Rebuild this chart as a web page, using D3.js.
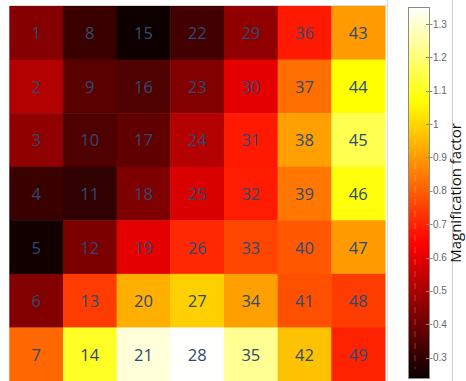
<!DOCTYPE html>
<html>
<head>
<meta charset="utf-8">
<script src="https://cdn.jsdelivr.net/npm/d3@7"></script>
<style>
  html, body { margin: 0; padding: 0; background: #fff; }
  svg { display: block; }
</style>
</head>
<body>
<svg id="chart" width="466" height="381"></svg>
<script>
// ---- Data ----
const columns = [0, 1, 2, 3, 4, 5, 6];
const rows = [0, 1, 2, 3, 4, 5, 6];
// cell ids are numbered column-wise, 1..49
const cellIds = d3.range(1, 50);
const col1 = [0.44, 0.517, 0.46, 0.316, 0.25, 0.436, 0.817];
const col2 = [0.316, 0.37, 0.35, 0.30, 0.425, 0.743, 1.11];
const col3 = [0.244, 0.35, 0.38, 0.43, 0.60, 0.935, 1.31];
const col4 = [0.33, 0.436, 0.517, 0.58, 0.71, 0.99, 1.35];
const col5 = [0.46, 0.60, 0.685, 0.69, 0.76, 0.91, 1.23];
const col6 = [0.685, 0.826, 0.91, 0.84, 0.79, 0.776, 0.967];
const col7 = [0.90, 1.067, 1.155, 1.08, 0.90, 0.743, 0.70];
const colorTicks = [0.3, 0.4, 0.5, 0.6, 0.7, 0.8, 0.9, 1, 1.1, 1.2, 1.3];
const colorDomain = [0.236, 1.351];
const legendTitle = "Magnification factor";

const magnification = [col1, col2, col3, col4, col5, col6, col7];

// ---- Layout ----
const svg = d3.select("#chart");
const heat = { left: 9.3, right: 385, top: 6, bottom: 381 };
const bar = { left: 408, right: 430, top: 7, bottom: 379 };

const x = d3.scaleBand().domain(columns).range([heat.left, heat.right]).padding(0);
const y = d3.scaleBand().domain(rows).range([heat.top, heat.bottom]).padding(0);

const [vmin, vmax] = colorDomain;
const span = vmax - vmin;
const color = d3.scaleLinear()
  .domain([vmin, vmin + 0.365 * span, vmin + 0.746 * span, vmax])
  .range(["#0a0000", "#ff0000", "#ffff00", "#ffffff"])
  .interpolate(d3.interpolateRgb)
  .clamp(true);

// panel frame lines
svg.append("line").attr("x1", heat.left).attr("x2", 387.5).attr("y1", 5.5).attr("y2", 5.5)
  .attr("stroke", "#dcdcdc").attr("stroke-width", 1);
svg.append("line").attr("x1", 387.5).attr("x2", 387.5).attr("y1", 0).attr("y2", 381)
  .attr("stroke", "#dcdcdc").attr("stroke-width", 1);
svg.append("line").attr("x1", 452.5).attr("x2", 452.5).attr("y1", 0).attr("y2", 381)
  .attr("stroke", "#d0d0d0").attr("stroke-width", 1);

// cells
const cells = [];
columns.forEach((c, ci) => {
  rows.forEach((r, ri) => {
    cells.push({ col: c, row: r, id: cellIds[ci * rows.length + ri], value: magnification[ci][ri] });
  });
});

svg.append("g").selectAll("rect").data(cells).join("rect")
  .attr("x", d => x(d.col))
  .attr("y", d => y(d.row))
  .attr("width", x.bandwidth() + 0.5)
  .attr("height", y.bandwidth() + 0.5)
  .attr("fill", d => color(d.value));

svg.append("g").selectAll("text").data(cells).join("text")
  .attr("x", d => x(d.col) + x.bandwidth() / 2)
  .attr("y", d => y(d.row) + y.bandwidth() / 2)
  .attr("text-anchor", "middle")
  .attr("dominant-baseline", "central")
  .attr("font-family", "'Open Sans', 'DejaVu Sans', sans-serif")
  .attr("font-size", 16.5)
  .attr("fill", "#2f4a70")
  .text(d => d.id);

// colorbar
const cy = d3.scaleLinear().domain(colorDomain).range([bar.bottom, bar.top]);
const defs = svg.append("defs");
const grad = defs.append("linearGradient").attr("id", "cbar")
  .attr("x1", 0).attr("y1", 1).attr("x2", 0).attr("y2", 0);
d3.range(0, 1.0001, 0.02).forEach(t => {
  grad.append("stop").attr("offset", t).attr("stop-color", color(vmin + t * span));
});
svg.append("rect")
  .attr("x", bar.left).attr("y", bar.top)
  .attr("width", bar.right - bar.left).attr("height", bar.bottom - bar.top)
  .attr("fill", "url(#cbar)");
// faint dashed artifact line
svg.append("line").attr("x1", 415).attr("x2", 415).attr("y1", bar.top + 120).attr("y2", bar.bottom - 10)
  .attr("stroke", "#ffffff").attr("stroke-opacity", 0.25).attr("stroke-dasharray", "6,6");
svg.append("rect")
  .attr("x", bar.left + 0.5).attr("y", bar.top + 0.5)
  .attr("width", bar.right - bar.left - 1).attr("height", bar.bottom - bar.top - 1)
  .attr("fill", "none").attr("stroke", "#8a8a8a").attr("stroke-width", 1);

const ticks = svg.append("g");
ticks.selectAll("line").data(colorTicks).join("line")
  .attr("x1", bar.right - 4).attr("x2", bar.right + 2.5)
  .attr("y1", d => Math.round(cy(d)) + 0.5).attr("y2", d => Math.round(cy(d)) + 0.5)
  .attr("stroke", "#8a8a8a").attr("stroke-width", 1);
ticks.selectAll("text").data(colorTicks).join("text")
  .attr("x", 433).attr("y", d => cy(d))
  .attr("dominant-baseline", "central")
  .attr("font-family", "'Liberation Sans', Arial, sans-serif")
  .attr("font-size", 10)
  .attr("fill", "#666")
  .text(d => d3.format("")(d));

svg.append("text")
  .attr("transform", `translate(461,193) rotate(-90)`)
  .attr("text-anchor", "middle")
  .attr("font-family", "'Open Sans', 'DejaVu Sans', sans-serif")
  .attr("font-size", 15)
  .attr("fill", "#111")
  .text(legendTitle);
</script>
</body>
</html>
